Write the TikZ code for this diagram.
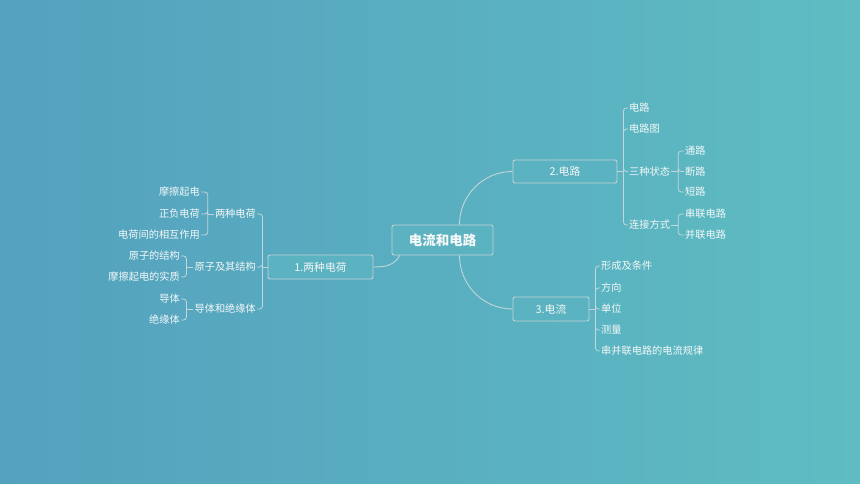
\documentclass[tikz,border=0pt]{standalone}
\usepackage{fontspec}
\setmainfont{Noto Sans CJK SC}
\definecolor{bgleft}{HTML}{54A1BE}
\definecolor{bgright}{HTML}{5EBCC2}
\definecolor{boxfill}{HTML}{5BB2C0}
\definecolor{lineclr}{HTML}{C3D6DA}
\definecolor{txtclr}{HTML}{F4F8F8}

\begin{document}
\begin{tikzpicture}[x=1pt,y=-1pt,
  topic/.style={draw=lineclr, line width=0.9pt, fill=boxfill, rounded corners=2pt,
    text=txtclr, font=\fontsize{10.8}{12}\selectfont, inner sep=0pt},
  leaf/.style={text=txtclr, font=\fontsize{10.2}{11}\selectfont, inner sep=1pt},
  link/.style={draw=lineclr, line width=0.8pt, rounded corners=3pt}]

\shade[left color=bgleft, right color=bgright] (0,0) rectangle (860,484);

% centre and the three branches
\node[topic, minimum width=101pt, minimum height=30pt, font=\fontsize{13.5}{15}\selectfont\bfseries] (root) at (442.5,240) {电流和电路};
\node[topic, minimum width=105pt, minimum height=24pt] (b1) at (320.5,267) {1.两种电荷};
\node[topic, minimum width=104pt, minimum height=23pt] (b2) at (565,171.5) {2.电路};
\node[topic, minimum width=76pt, minimum height=24pt] (b3) at (551,309) {3.电流};

\draw[lineclr, line width=0.9pt] ([xshift=8pt]root.south west) to[out=-115,in=0] (b1.east);
\draw[lineclr, line width=0.9pt] ([xshift=17pt]root.north) to[out=90,in=180] (b2.west);
\draw[lineclr, line width=0.9pt] ([xshift=17pt]root.south) to[out=-90,in=180] (b3.west);

% 1
\node[leaf, anchor=east] (c11) at (257,214) {两种电荷};
\node[leaf, anchor=east] (c12) at (257,267) {原子及其结构};
\node[leaf, anchor=east] (c13) at (257,309) {导体和绝缘体};
\draw[link] (b1.west) -- ++(-5,0);
\foreach \c in {c11,c12,c13}
  \draw[link] ([xshift=-5pt]b1.west) |- (\c.east);

\node[leaf, anchor=east] (c111) at (201,192) {摩擦起电};
\node[leaf, anchor=east] (c112) at (201,214) {正负电荷};
\node[leaf, anchor=east] (c113) at (201,235) {电荷间的相互作用};
\draw[link] (c11.west) -- ++(-6,0);
\foreach \c in {c111,c112,c113}
  \draw[link] ([xshift=-6pt]c11.west) |- (\c.east);

\node[leaf, anchor=east] (c121) at (181,256) {原子的结构};
\node[leaf, anchor=east] (c122) at (181,277) {摩擦起电的实质};
\draw[link] (c12.west) -- ++(-7,0);
\foreach \c in {c121,c122}
  \draw[link] ([xshift=-7pt]c12.west) |- (\c.east);

\node[leaf, anchor=east] (c131) at (181,299) {导体};
\node[leaf, anchor=east] (c132) at (181,320) {绝缘体};
\draw[link] (c13.west) -- ++(-7,0);
\foreach \c in {c131,c132}
  \draw[link] ([xshift=-7pt]c13.west) |- (\c.east);

% 2
\node[leaf, anchor=west] (c21) at (628,108) {电路};
\node[leaf, anchor=west] (c22) at (628,129) {电路图};
\node[leaf, anchor=west] (c23) at (628,171.5) {三种状态};
\node[leaf, anchor=west] (c24) at (628,225) {连接方式};
\draw[link] (b2.east) -- ++(6,0);
\foreach \c in {c21,c22,c23,c24}
  \draw[link] ([xshift=6pt]b2.east) |- (\c.west);

\node[leaf, anchor=west] (c231) at (684,151) {通路};
\node[leaf, anchor=west] (c232) at (684,171.5) {断路};
\node[leaf, anchor=west] (c233) at (684,192) {短路};
\draw[link] (c23.east) -- ++(7,0);
\foreach \c in {c231,c232,c233}
  \draw[link] ([xshift=7pt]c23.east) |- (\c.west);

\node[leaf, anchor=west] (c241) at (684,214) {串联电路};
\node[leaf, anchor=west] (c242) at (684,235) {并联电路};
\draw[link] (c24.east) -- ++(7,0);
\foreach \c in {c241,c242}
  \draw[link] ([xshift=7pt]c24.east) |- (\c.west);

% 3
\node[leaf, anchor=west] (c31) at (600,266) {形成及条件};
\node[leaf, anchor=west] (c32) at (600,288) {方向};
\node[leaf, anchor=west] (c33) at (600,309) {单位};
\node[leaf, anchor=west] (c34) at (600,330) {测量};
\node[leaf, anchor=west] (c35) at (600,351) {串并联电路的电流规律};
\draw[link] (b3.east) -- ++(6,0);
\foreach \c in {c31,c32,c33,c34,c35}
  \draw[link] ([xshift=6pt]b3.east) |- (\c.west);

\end{tikzpicture}
\end{document}
